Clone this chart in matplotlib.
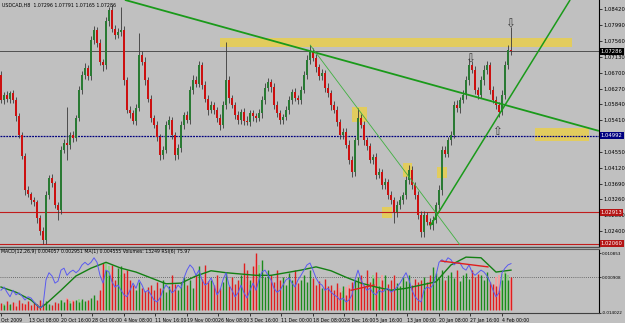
import numpy as np
import matplotlib.pyplot as plt
from matplotlib.patches import Rectangle

BG = '#c0c0c0'

# USDCAD H8 candles, prices as pips above 1.0000
first_open = 664
close_pips = [
    596, 610, 598, 615, 596, 552, 501, 445, 351, 340,
    324, 318, 275, 240, 215, 338, 384, 370, 310, 297,
    460, 478, 474, 501, 492, 547, 623, 664, 683, 660,
    759, 786, 750, 700, 690, 810, 841, 790, 773, 780,
    786, 650, 569, 560, 540, 575, 718, 700, 650, 600,
    547, 528, 495, 446, 460, 528, 542, 501, 446, 465,
    528, 555, 542, 623, 650, 640, 691, 637, 600, 569,
    582, 569, 547, 528, 582, 650, 601, 582, 555, 542,
    563, 540, 536, 560, 552, 547, 560, 596, 629, 645,
    630, 582, 560, 542, 550, 569, 596, 618, 601, 596,
    623, 664, 705, 727, 710, 685, 660, 670, 629, 615,
    582, 569, 536, 501, 510, 474, 433, 400, 487, 547,
    528, 487, 470, 433, 441, 392, 400, 365, 372, 338,
    324, 291, 310, 324, 338, 378, 406, 365, 338, 283,
    237, 283, 265, 256, 270, 310, 351, 460, 450, 487,
    501, 582, 574, 596, 610, 650, 691, 678, 623, 610,
    650, 678, 691, 623, 596, 582, 563, 610, 691, 732,
    729,
]
upper_wick = [
    12, 8, 10, 6, 9, 7, 10, 8, 6, 10,
    7, 9, 6, 8, 10, 12, 9, 10, 7, 8,
    10, 12, 100, 8, 10, 9, 12, 10, 14, 9,
    12, 10, 9, 11, 8, 12, 8, 14, 10, 12,
    63, 10, 8, 12, 9, 10, 60, 10, 12, 8,
    10, 9, 12, 8, 10, 12, 10, 9, 8, 12,
    10, 9, 12, 10, 14, 12, 10, 8, 12, 9,
    10, 8, 9, 12, 10, 104, 10, 9, 8, 12,
    9, 10, 12, 8, 10, 9, 12, 10, 14, 10,
    9, 12, 10, 8, 9, 10, 12, 8, 10, 9,
    12, 10, 14, 18, 10, 12, 9, 10, 8, 12,
    9, 10, 12, 8, 10, 9, 12, 10, 9, 27,
    10, 12, 9, 10, 8, 12, 10, 9, 12, 8,
    10, 9, 12, 10, 9, 12, 13, 10, 8, 12,
    10, 12, 9, 10, 12, 10, 14, 12, 10, 9,
    12, 10, 14, 9, 12, 10, 19, 12, 10, 9,
    12, 14, 10, 9, 12, 10, 8, 12, 10, 14,
    63,
]
lower_wick = [
    9, 12, 8, 10, 7, 12, 9, 10, 12, 8,
    10, 9, 12, 10, 11, 9, 12, 10, 8, 27,
    10, 9, 40, 12, 10, 8, 9, 12, 10, 9,
    10, 12, 9, 10, 14, 9, 12, 10, 12, 9,
    10, 12, 9, 14, 10, 12, 9, 10, 12, 10,
    12, 9, 10, 13, 10, 9, 12, 10, 13, 9,
    10, 12, 9, 10, 12, 9, 10, 12, 10, 14,
    9, 12, 10, 14, 9, 10, 12, 9, 10, 12,
    10, 12, 9, 10, 12, 10, 9, 12, 10, 9,
    12, 10, 9, 12, 10, 9, 12, 10, 9, 12,
    10, 9, 12, 10, 9, 12, 10, 9, 12, 10,
    12, 9, 10, 12, 10, 9, 12, 13, 10, 12,
    9, 12, 10, 9, 12, 10, 9, 12, 10, 12,
    10, 30, 12, 9, 10, 12, 9, 10, 12, 10,
    14, 12, 9, 10, 12, 9, 10, 12, 9, 10,
    12, 9, 10, 12, 9, 10, 12, 9, 10, 12,
    9, 12, 10, 12, 9, 10, 13, 9, 10, 12,
    10,
]

# sub window: volumes (hundreds of ticks), RSI(6) and its average
volume = [
    14, 10, 18, 12, 16, 8, 20, 14, 12, 18,
    10, 16, 12, 20, 14, 18, 12, 10, 16, 14,
    20, 16, 22, 14, 18, 20, 16, 22, 18, 20,
    24, 30, 20, 40, 94, 80, 70, 90, 60, 85,
    88, 74, 80, 60, 50, 40, 56, 44, 38, 46,
    50, 40, 56, 44, 60, 36, 48, 70, 52, 40,
    54, 66, 50, 60, 44, 70, 88, 62, 90, 58,
    60, 50, 70, 44, 56, 74, 48, 66, 52, 60,
    70, 94, 80, 60, 88, 114, 74, 100, 66, 80,
    70, 56, 80, 60, 66, 50, 74, 60, 80, 54,
    60, 70, 56, 80, 64, 50, 58, 44, 62, 48,
    50, 40, 54, 36, 48, 30, 44, 56, 60, 66,
    70, 50, 80, 56, 64, 76, 48, 60, 70, 52,
    60, 70, 54, 48, 66, 58, 70, 50, 62, 56,
    60, 66, 56, 70, 86, 74, 64, 80, 60, 70,
    76, 64, 80, 58, 70, 74, 62, 80, 66, 72,
    70, 60, 76, 56, 52, 48, 40, 60, 74, 60,
    66,
]
histo = [
    0, 12, 0, 10, 0, 14, 0, 0, 12, 0,
    0, 0, 10, 0, 0, 12, 0, 0, 0, 0,
    20, 0, 24, 18, 20, 0, 22, 18, 0, 0,
    0, 0, 0, 30, 90, 94, 88, 76, 0, 0,
    70, 80, 60, 40, 0, 0, 0, 30, 0, 0,
    0, 0, 0, 0, 0, 0, 0, 0, 40, 0,
    0, 0, 0, 0, 0, 0, 0, 0, 70, 0,
    0, 0, 0, 0, 0, 0, 0, 0, 0, 0,
    0, 60, 56, 50, 64, 100, 90, 0, 0, 0,
    0, 0, 0, 0, 0, 0, 0, 0, 0, 0,
    0, 0, 0, 0, 0, 0, 0, 0, 0, 0,
    0, 0, 40, 44, 38, 46, 50, 0, 0, 0,
    60, 0, 0, 0, 70, 66, 64, 70, 0, 0,
    0, 0, 0, 0, 0, 0, 0, 0, 0, 0,
    0, 0, 40, 60, 64, 0, 0, 0, 0, 0,
    0, 0, 0, 0, 0, 0, 0, 0, 0, 0,
    0, 0, 0, 0, 0, 66, 70, 72, 76, 70,
    60,
]
rsi = [
    35, 40, 32, 25, 35, 28, 31, 26, 20, 25,
    23, 17, 12, 8, 11, 51, 62, 57, 46, 49,
    66, 69, 58, 63, 66, 62, 66, 74, 78, 74,
    78, 85, 78, 58, 46, 66, 63, 48, 40, 43,
    35, 28, 25, 35, 46, 38, 51, 43, 32, 35,
    28, 20, 17, 23, 35, 43, 38, 31, 35, 43,
    38, 54, 66, 74, 69, 58, 66, 51, 43, 46,
    54, 43, 28, 35, 51, 62, 43, 35, 25, 31,
    43, 31, 23, 35, 46, 35, 51, 63, 66, 58,
    51, 38, 32, 35, 43, 51, 54, 46, 40, 51,
    58, 66, 74, 77, 66, 54, 46, 43, 35, 38,
    32, 28, 25, 20, 23, 17, 20, 28, 51, 66,
    51, 42, 35, 38, 31, 28, 35, 32, 35, 38,
    32, 35, 40, 46, 54, 62, 51, 35, 25, 20,
    17, 35, 40, 38, 43, 58, 78, 82, 78, 85,
    82, 74, 78, 77, 69, 66, 74, 63, 58, 62,
    66, 63, 57, 48, 35, 25, 31, 62, 69, 74,
    76,
]
avg_bar = [0, 5, 10, 13, 15, 20, 25, 30, 35, 40, 45, 50, 55, 60, 65, 70, 75, 80,
           85, 90, 95, 100, 105, 110, 115, 120, 125, 130, 135, 140, 145, 150,
           155, 160, 165, 170]
avg_val = [40, 32, 20, 8, 14, 35, 57, 69, 78, 69, 63, 54, 45, 46, 57, 65, 62, 60,
           58, 58, 62, 66, 71, 65, 55, 46, 40, 35, 38, 43, 48, 74, 86, 85, 63, 66]

# objects drawn on the chart
level_price = [1.07286, 1.04992, 1.02913, 1.02060]
level_color = ['#000000', '#000080', '#b41414', '#b41414']
zone_left = [73, 178, 117, 134, 145.3, 127]
zone_right = [190.3, 196, 122, 137, 148.7, 130.3]
zone_low = [1.0740, 1.0485, 1.0536, 1.0387, 1.0384, 1.0275]
zone_high = [1.0765, 1.0520, 1.0577, 1.0425, 1.0414, 1.0305]
trend_lines = [((41.3, 1.0868), (199.3, 1.0512), 1.3, '#1a9a1a'),
               ((143, 1.0253), (189.7, 1.0868), 1.1, '#1a9a1a'),
               ((103, 1.0746), (153, 1.0202), 0.6, '#3fb03f')]
arrows = [(156.3, 1.0707, '\u21e9'), (169.7, 1.0803, '\u21e9'), (165.3, 1.0510, '\u21e7')]

date_labels = ['13 Oct 08:00', '20 Oct 16:00', '28 Oct 00:00', '4 Nov 08:00',
               '11 Nov 16:00', '19 Nov 00:00', '26 Nov 08:00', '3 Dec 16:00',
               '11 Dec 00:00', '18 Dec 08:00', '28 Dec 16:00', '5 Jan 16:00',
               '13 Jan 00:00', '20 Jan 08:00', '27 Jan 16:00', '4 Feb 00:00']

# ---- prepare OHLC
c = 1 + np.array(close_pips) / 10000
o = np.r_[1 + first_open / 10000, c[:-1]]
hi = np.maximum(o, c) + np.array(upper_wick) / 10000
lo = np.minimum(o, c) - np.array(lower_wick) / 10000
idx = np.arange(len(c))
up = c >= o

fig = plt.figure(figsize=(6.25, 3.23), dpi=100, facecolor=BG)
W, H = 625.0, 323.0
ax = fig.add_axes([0, 1 - 247 / H, 599 / W, 247 / H], facecolor=BG)
ax2 = fig.add_axes([0, 1 - 313 / H, 599 / W, 64 / H], facecolor=BG)

xlim = (-1 / 3, 598 / 3)
ax.set_xlim(*xlim)
ax.set_ylim(1.01965, 1.08678)

# zones
for l, r, b, t in zip(zone_left, zone_right, zone_low, zone_high):
    ax.add_patch(Rectangle((l, b), r - l, t - b, facecolor='#e2cc5e', edgecolor='none', zorder=1))

# level lines
ax.axhline(level_price[0], color='#505050', lw=0.7, zorder=2)
ax.axhline(level_price[1], color='#000080', lw=0.9, ls=(0, (1.5, 0.8)), zorder=2)
ax.axhline(level_price[2], color='#c01c1c', lw=0.8, zorder=2)
ax.axhline(level_price[3], color='#c01c1c', lw=0.8, zorder=2)

# candles
ax.vlines(idx, lo, hi, color='#3a3a3a', lw=0.6, zorder=3)
body = np.maximum(np.abs(c - o), 0.00012)
ax.bar(idx, body, bottom=np.minimum(o, c), width=0.72,
       color=np.where(up, '#2a7a34', '#cc1010'), linewidth=0, zorder=4)

# trend lines
for (x0, y0), (x1, y1), lw, col in trend_lines:
    ax.plot([x0, x1], [y0, y1], color=col, lw=lw, zorder=5, solid_capstyle='butt')

for x, y, s in arrows:
    ax.text(x, y, s, ha='center', va='center', fontsize=8.5, color='#3a3a3a', zorder=6)

# right price scale
ticks = np.round(1.08420 - 0.0043 * np.arange(15), 5)
ax.set_yticks(ticks)
ax.set_yticklabels(['' if abs(t - 1.0498) < 1e-6 else '%.5f' % t for t in ticks])
ax.yaxis.tick_right()
ax.tick_params(axis='y', length=2, width=0.5, pad=1, labelsize=3.8, colors='black')
ax.set_xticks([])
for s in ['top', 'left']:
    ax.spines[s].set_visible(False)
ax.spines['right'].set_color('black')
ax.spines['right'].set_linewidth(0.8)
ax.spines['bottom'].set_color('#505050')
ax.spines['bottom'].set_linewidth(1.0)

for p, col in zip(level_price, level_color):
    ax.text(1.003, p, '%.5f' % p, transform=ax.get_yaxis_transform(), ha='left', va='center',
            fontsize=3.8, color='white', clip_on=False, zorder=10,
            bbox=dict(boxstyle='square,pad=0.18', fc=col, ec='none'))

fig.text(2 / W, 1 - 5 / H, 'USDCAD,H8  1.07296 1.07791 1.07165 1.07286',
         fontsize=3.4, va='center', ha='left', color='black')

# ---- sub window
ax2.set_xlim(*xlim)
ax2.set_ylim(-0.014022, 0.01253)

axv = ax2.twinx()
axv.set_ylim(-6, 122)
axv.set_axis_off()
axv.bar(idx, histo, width=0.9, color=np.where(up, '#94cf8c', '#f0a0a0'), linewidth=0)
axv.vlines(idx, 0, volume, colors=np.where(up, '#1b8a1b', '#e01e1e'), lw=1.0)

axr = ax2.twinx()
axr.set_ylim(0, 98.5)
axr.set_axis_off()
axr.plot(avg_bar, avg_val, color='#138013', lw=1.0)
axr.plot(idx, rsi, color='#5a5af0', lw=0.7)
axr.plot([116.7, 124.3], [35, 43], color='#e01e1e', lw=1.0)
axr.plot([146.7, 162.3], [80, 71], color='#e01e1e', lw=1.0)

# twinx moves the ticks of ax2 to the left, so set the scale afterwards
ax2.axhline(0.000908, color='#505050', lw=0.6, ls=(0, (1, 1.5)))
sub_ticks = [0.010853, 0.000908, -0.014022]
ax2.set_yticks(sub_ticks)
ax2.set_yticklabels(['%.6f' % t for t in sub_ticks])
ax2.yaxis.tick_right()
ax2.tick_params(axis='y', which='both', left=False, labelleft=False, right=True,
                labelright=True, length=1.5, width=0.5, pad=0.5, labelsize=3.0, colors='black')
ax2.spines['left'].set_visible(False)
ax2.spines['top'].set_color('#606060')
ax2.spines['right'].set_color('black')
ax2.spines['bottom'].set_color('#404040')

tick_pos = 9.33 + 10.51 * np.arange(len(date_labels))
ax2.set_xticks(np.r_[0, tick_pos])
ax2.set_xticklabels(['Oct 2009'] + date_labels, fontsize=3.3, ha='left')
ax2.tick_params(axis='x', length=2, width=0.5, pad=1.5, colors='black')

fig.text(1 / W, 1 - 252 / H,
         'MACD(12,26,9) 0.004057 0.002951 MA(1) 0.004555 Volumes: 13249 RSI(6) 75.97',
         fontsize=3.3, va='center', ha='left', color='black')

fig.savefig('out.png', dpi=100, facecolor=BG)
